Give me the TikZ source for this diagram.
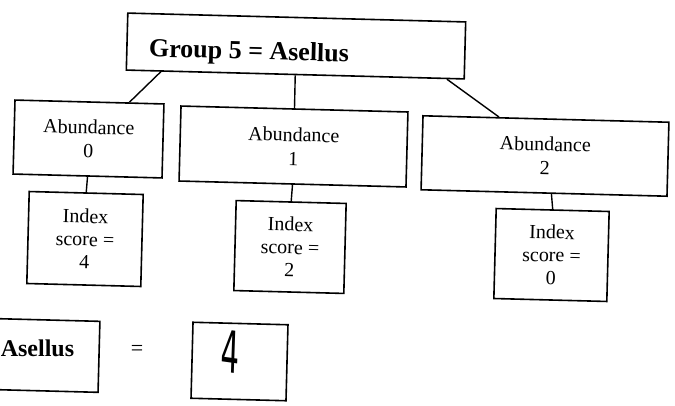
\documentclass[tikz,border=0pt]{standalone}
\usepackage{fontspec}
\setmainfont{Liberation Serif}
\newfontfamily\handfont{DejaVu Sans}
\usetikzlibrary{calc}
\begin{document}
\begin{tikzpicture}[x=1pt,y=-1pt,
  box/.style={draw, line width=1.6pt, rectangle, inner sep=0pt, align=center, rotate=-1.5},
  txt/.style={font=\fontsize{20}{24}\selectfont},
  idx/.style={font=\fontsize{20}{23}\selectfont},
  conn/.style={line width=1.4pt}]
\useasboundingbox (0,0) rectangle (675,405);
\clip (0,0) rectangle (675,405);
% top box
\node[box, minimum width=338pt, minimum height=57pt] (group) at (296,46) {};
\node[font=\bfseries\fontsize{26}{30}\selectfont, rotate=-1.5, inner sep=0pt] (grouptext) at (249,53) {Group 5 = Asellus};
% abundance boxes
\node[box, txt, minimum width=149pt, minimum height=74pt] (ab0) at (88.5,139) {Abundance\\0};
\node[box, txt, minimum width=227pt, minimum height=75pt] (ab1) at (293.5,146.5) {Abundance\\1};
\node[box, txt, minimum width=246pt, minimum height=74pt] (ab2) at (545,156) {Abundance\\2};
% index boxes
\node[box, idx, minimum width=114pt, minimum height=92pt] (ix0) at (85,239) {Index\\score =\\4};
\node[box, idx, minimum width=110pt, minimum height=90pt] (ix1) at (290,247) {Index\\score =\\2};
\node[box, idx, minimum width=113pt, minimum height=90pt] (ix2) at (551.5,255) {Index\\score =\\0};
% connectors
\draw[conn] ($(group.south west)!0.104!(group.south east)$) -- ($(ab0.north west)!0.765!(ab0.north east)$);
\draw[conn] (group.south) -- (ab1.north);
\draw[conn] ($(group.south west)!0.947!(group.south east)$) -- ($(ab2.north west)!0.31!(ab2.north east)$);
\draw[conn] (ab0.south) -- (ix0.north);
\draw[conn] (ab1.south) -- (ix1.north);
\draw[conn] ($(ab2.south west)!0.53!(ab2.south east)$) -- (ix2.north);
% bottom row
\node[box, minimum width=140pt, minimum height=71pt] (asel) at (29,355) {};
\node[font=\bfseries\fontsize{24}{28}\selectfont, inner sep=0pt] (aseltext) at (37.5,348) {Asellus};
\node[font=\fontsize{22}{24}\selectfont, inner sep=0pt] (eq) at (137,350) {=};
\node[box, minimum width=95pt, minimum height=76pt] (ans) at (239.5,361.5) {};
\node[font=\handfont\fontsize{58}{60}\selectfont, xscale=0.5, rotate=-4, inner sep=0pt] (hand) at (230,352) {4};
\end{tikzpicture}
\end{document}
